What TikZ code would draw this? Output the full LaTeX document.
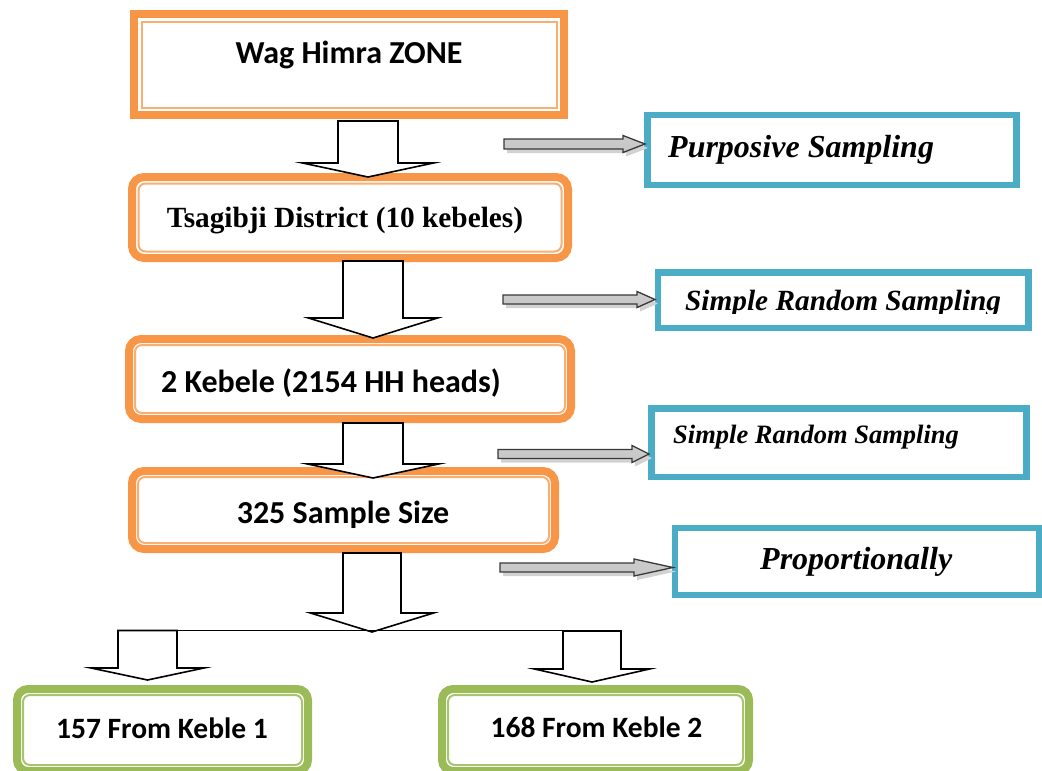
\documentclass[tikz,border=0pt]{standalone}
\usepackage{fontspec}
\setmainfont{Carlito}
\newfontfamily\tnr{Liberation Serif}
\usetikzlibrary{calc}
\definecolor{orM}{HTML}{F79646}
\definecolor{orL}{HTML}{F9AE72}
\definecolor{blM}{HTML}{4BACC6}
\definecolor{grM}{HTML}{9BBB59}
\definecolor{grL}{HTML}{A9C46E}
\newcommand\blockdown[6]{%
  \draw[barrow] (#1-#5,#2) -- (#1+#5,#2) -- (#1+#5,#3) -- (#1+#6,#3) -- (#1,#4) -- (#1-#6,#3) -- (#1-#5,#3) -- cycle;}
\newcommand\grayarrow[6]{%
  \fill[gray!35] (#1+3,#4-#5+4) -- (#2+3,#4-#5+4) -- (#2+3,#4-#6+4) -- (#3+3,#4+4) -- (#2+3,#4+#6+4) -- (#2+3,#4+#5+4) -- (#1+3,#4+#5+4) -- cycle;
  \path[top color=gray!40, middle color=white, bottom color=gray!45, draw=gray!45!black, line width=1.3pt]
    (#1,#4-#5) -- (#2,#4-#5) -- (#2,#4-#6) -- (#3,#4) -- (#2,#4+#6) -- (#2,#4+#5) -- (#1,#4+#5) -- cycle;}
\tikzset{
  obox/.style={draw=orM, line width=8pt, inner sep=0pt, outer sep=0pt, fill=white},
  gbox/.style={draw=grM, line width=8pt, inner sep=0pt, outer sep=0pt, fill=white, rounded corners=11pt},
  bbox/.style={draw=blM, line width=6.7pt, inner sep=0pt, outer sep=0pt, fill=white},
  oline/.style={draw=orL, line width=2pt},
  gline/.style={draw=grL, line width=2pt},
  barrow/.style={draw=black, line width=1.6pt, fill=white, line join=miter},
  ctext/.style={anchor=base, inner sep=0pt, font=\bfseries\fontsize{32}{32}\selectfont},
  stext/.style={anchor=base west, inner sep=0pt, font=\tnr\bfseries\itshape\fontsize{32}{32}\selectfont},
}
\begin{document}
\begin{tikzpicture}[x=1pt,y=-1pt]
\useasboundingbox (0,0) rectangle (1042,771);
% orange boxes
\node[obox, minimum width=430pt, minimum height=101pt] (b1) at (349,64.5) {};
\draw[oline] ($(b1.south west)+(7.5,-7.5)$) rectangle ($(b1.north east)+(-7.5,7.5)$);
\node[obox, rounded corners=12pt, minimum width=436pt, minimum height=81pt] (b2) at (350,217.5) {};
\draw[oline, rounded corners=7pt] ($(b2.south west)+(6.5,-6.5)$) rectangle ($(b2.north east)+(-6.5,6.5)$);
\node[obox, rounded corners=12pt, minimum width=442pt, minimum height=80pt] (b3) at (350,379) {};
\draw[oline, rounded corners=7pt] ($(b3.south west)+(6,-6)$) rectangle ($(b3.north east)+(-6,6)$);
\node[obox, rounded corners=12pt, minimum width=423pt, minimum height=78pt] (b4) at (343.5,510) {};
\draw[oline, rounded corners=7pt] ($(b4.south west)+(6,-6)$) rectangle ($(b4.north east)+(-6,6)$);
% green boxes
\node[gbox, minimum width=291pt, minimum height=82pt] (g1) at (162.5,730) {};
\draw[gline, rounded corners=7pt] ($(g1.south west)+(6,-6)$) rectangle ($(g1.north east)+(-6,6)$);
\node[gbox, minimum width=307pt, minimum height=82pt] (g2) at (595.5,730) {};
\draw[gline, rounded corners=7pt] ($(g2.south west)+(6,-6)$) rectangle ($(g2.north east)+(-6,6)$);
% blue boxes
\node[bbox, minimum width=369pt, minimum height=70pt] (c1) at (832,150) {};
\node[bbox, minimum width=370.5pt, minimum height=55.5pt] (c2) at (843.25,300.25) {};
\node[bbox, minimum width=375.5pt, minimum height=68.5pt] (c3) at (839,442.75) {};
\node[bbox, minimum width=364pt, minimum height=67pt] (c4) at (857,561.5) {};
% texts
\node[ctext] (t1) at (349,63) {Wag Himra ZONE};
\node[ctext, font=\tnr\bfseries\fontsize{29.3}{29.3}\selectfont] (t2) at (345,227) {Tsagibji District (10 kebeles)};
\node[ctext] (t3) at (331,392) {2 Kebele (2154 HH heads)};
\node[ctext] (t4) at (343,523) {325 Sample Size};
\node[ctext, font=\bfseries\fontsize{29.5}{29.5}\selectfont] (t5) at (162,738) {157 From Keble 1};
\node[ctext, font=\bfseries\fontsize{29.5}{29.5}\selectfont] (t6) at (596.5,737) {168 From Keble 2};
\node[stext] (s1) at (668,157) {Purposive Sampling};
\begin{scope}
\clip (655,270) rectangle (1030,313);
\node[stext, font=\tnr\bfseries\itshape\fontsize{29.3}{29.3}\selectfont] (s2) at (685,310) {Simple Random Sampling};
\end{scope}
\node[stext, font=\tnr\bfseries\itshape\fontsize{26.5}{26.5}\selectfont] (s3) at (673,443) {Simple Random Sampling};
\node[stext] (s4) at (760,569) {Proportionally};
% block arrows
\blockdown{368}{121}{163}{177}{30}{65.5}
\blockdown{373}{261}{318}{338}{30}{64.5}
\blockdown{373}{423}{464}{478}{30}{65.5}
\blockdown{372}{553}{613}{632}{29}{61.5}
\coordinate (hl) at (118,630.5);
\coordinate (hr) at (619,630.5);
\draw[line width=1.6pt] (hl) -- (hr);
\blockdown{147.5}{630.5}{668}{680}{29.5}{56.5}
\blockdown{592}{631}{669}{682}{29}{57.5}
% gray arrows
\grayarrow{504}{623}{645}{144}{5}{8.5}
\grayarrow{503}{637}{655}{299.5}{4.5}{8}
\grayarrow{498}{632}{649}{454}{4.5}{8.5}
\grayarrow{500}{634}{673}{567.5}{4.5}{8.5}
\end{tikzpicture}
\end{document}
